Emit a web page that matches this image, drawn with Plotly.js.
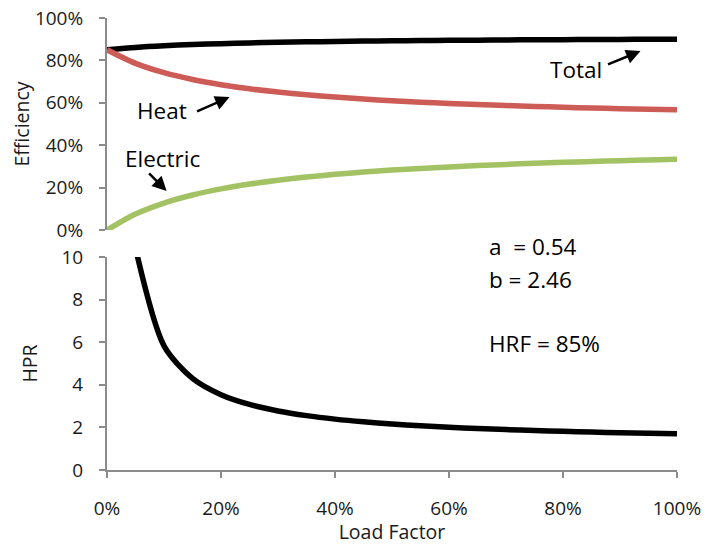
<!DOCTYPE html>
<html>
<head>
<meta charset="utf-8">
<script src="https://cdn.plot.ly/plotly-3.0.1.min.js"></script>
<style>
  html, body { margin: 0; padding: 0; background: #fff; }
  #chart { width: 705px; height: 545px; }
</style>
</head>
<body>
<div id="chart"></div>
<script>
// Load factor (fraction of full load)
const loadFactor = [0, 0.05, 0.10, 0.15, 0.20, 0.25, 0.30, 0.35, 0.40, 0.45, 0.50,
                    0.55, 0.60, 0.65, 0.70, 0.75, 0.80, 0.85, 0.90, 0.95, 1.00];

// Efficiencies (fraction)
const totalEff = [0.850, 0.8613, 0.8691, 0.8748, 0.8791, 0.8825, 0.8852, 0.8875, 0.8894, 0.8910, 0.8924,
                  0.8936, 0.8946, 0.8956, 0.8964, 0.8972, 0.8978, 0.8985, 0.8990, 0.8995, 0.9000];
const heatEff = [0.850, 0.7859, 0.7419, 0.7097, 0.6853, 0.6660, 0.6505, 0.6377, 0.6269, 0.6178, 0.6099,
                 0.6030, 0.5970, 0.5917, 0.5870, 0.5827, 0.5789, 0.5754, 0.5722, 0.5693, 0.5667];
const electricEff = [0.000, 0.0754, 0.1272, 0.1650, 0.1938, 0.2165, 0.2347, 0.2498, 0.2625, 0.2732, 0.2825,
                     0.2905, 0.2976, 0.3039, 0.3095, 0.3145, 0.3190, 0.3231, 0.3268, 0.3302, 0.3333];

// Heat-to-power ratio (undefined at zero load)
const hprLoad = [0.05, 0.10, 0.15, 0.20, 0.25, 0.30, 0.35, 0.40, 0.45, 0.50,
                 0.55, 0.60, 0.65, 0.70, 0.75, 0.80, 0.85, 0.90, 0.95, 1.00];
const hpr = [10.42, 5.831, 4.301, 3.536, 3.077, 2.771, 2.553, 2.388, 2.261, 2.159,
             2.076, 2.006, 1.947, 1.897, 1.853, 1.815, 1.781, 1.751, 1.724, 1.700];

// Model parameters shown on the chart
const paramLines = ['a&nbsp;&nbsp;= 0.54', 'b = 2.46', 'HRF = 85%'];

const FONT = '"Open Sans", "Noto Sans", sans-serif';
const AXIS_GREY = '#8c8c8c';
const TEXT = '#1a1a1a';

const lineStyle = (color) => ({ color: color, width: 5.5, shape: 'spline', smoothing: 0.8 });

const traces = [
  { x: loadFactor, y: totalEff, xaxis: 'x', yaxis: 'y', mode: 'lines', name: 'Total', line: lineStyle('#000000') },
  { x: loadFactor, y: heatEff, xaxis: 'x', yaxis: 'y', mode: 'lines', name: 'Heat', line: lineStyle('#cd5c57') },
  { x: loadFactor, y: electricEff, xaxis: 'x', yaxis: 'y', mode: 'lines', name: 'Electric', line: lineStyle('#a3c263') },
  { x: hprLoad, y: hpr, xaxis: 'x', yaxis: 'y2', mode: 'lines', name: 'HPR', line: lineStyle('#000000') }
];

const axisCommon = {
  showline: true, linecolor: AXIS_GREY, linewidth: 2,
  ticks: 'outside', tickcolor: AXIS_GREY, tickwidth: 2, ticklen: 6,
  showgrid: false, zeroline: false,
  tickfont: { family: FONT, size: 19, color: TEXT }
};

const titleFont = { family: FONT, size: 19.5, color: TEXT };
const textFont = { family: FONT, size: 22.5, color: '#000' };

const arrow = (x, y, ax, ay) => ({
  text: '', x: x, y: y, xref: 'x', yref: 'y', showarrow: true, ax: ax, ay: ay,
  arrowhead: 2, arrowsize: 1.15, arrowwidth: 2.5, arrowcolor: '#000', standoff: 0
});

const param = (text, y) => ({
  text: text, x: 0.667, y: y, xref: 'x', yref: 'paper',
  xanchor: 'left', yanchor: 'middle', showarrow: false, font: textFont
});

const annotations = [
  // series labels
  { text: 'Total', x: 0.822, y: 0.755, xref: 'x', yref: 'y', showarrow: false, font: textFont },
  { text: 'Heat', x: 0.096, y: 0.566, xref: 'x', yref: 'y', showarrow: false, font: textFont },
  { text: 'Electric', x: 0.098, y: 0.335, xref: 'x', yref: 'y', showarrow: false, font: textFont },
  // pointer arrows
  arrow(0.936, 0.844, -34, 14),
  arrow(0.215, 0.627, -34, 15),
  arrow(0.1046, 0.184, -19, -19),
  // parameters
  param(paramLines[0], 0.4934),
  param(paramLines[1], 0.4204),
  param(paramLines[2], 0.2788)
];

const layout = {
  width: 705, height: 545,
  margin: { l: 107, r: 28, t: 18, b: 75 },
  paper_bgcolor: '#fff', plot_bgcolor: '#fff',
  showlegend: false,
  xaxis: Object.assign({}, axisCommon, {
    anchor: 'y2', range: [0, 1], dtick: 0.2, tickformat: '.0%',
    ticklabelstandoff: 14,
    title: { text: 'Load Factor', font: titleFont, standoff: 0 }
  }),
  yaxis: Object.assign({}, axisCommon, {
    domain: [0.531, 1], range: [0, 1], dtick: 0.2, tickformat: '.0%',
    ticklabelstandoff: 12,
    title: { text: 'Efficiency', font: titleFont, standoff: 0 }
  }),
  yaxis2: Object.assign({}, axisCommon, {
    domain: [0, 0.4712], range: [0, 10], dtick: 2, anchor: 'x',
    ticklabelstandoff: 12,
    title: { text: 'HPR', font: titleFont, standoff: 19 }
  }),
  annotations: annotations
};

Plotly.newPlot('chart', traces, layout, { displayModeBar: false, staticPlot: true });
</script>
</body>
</html>
